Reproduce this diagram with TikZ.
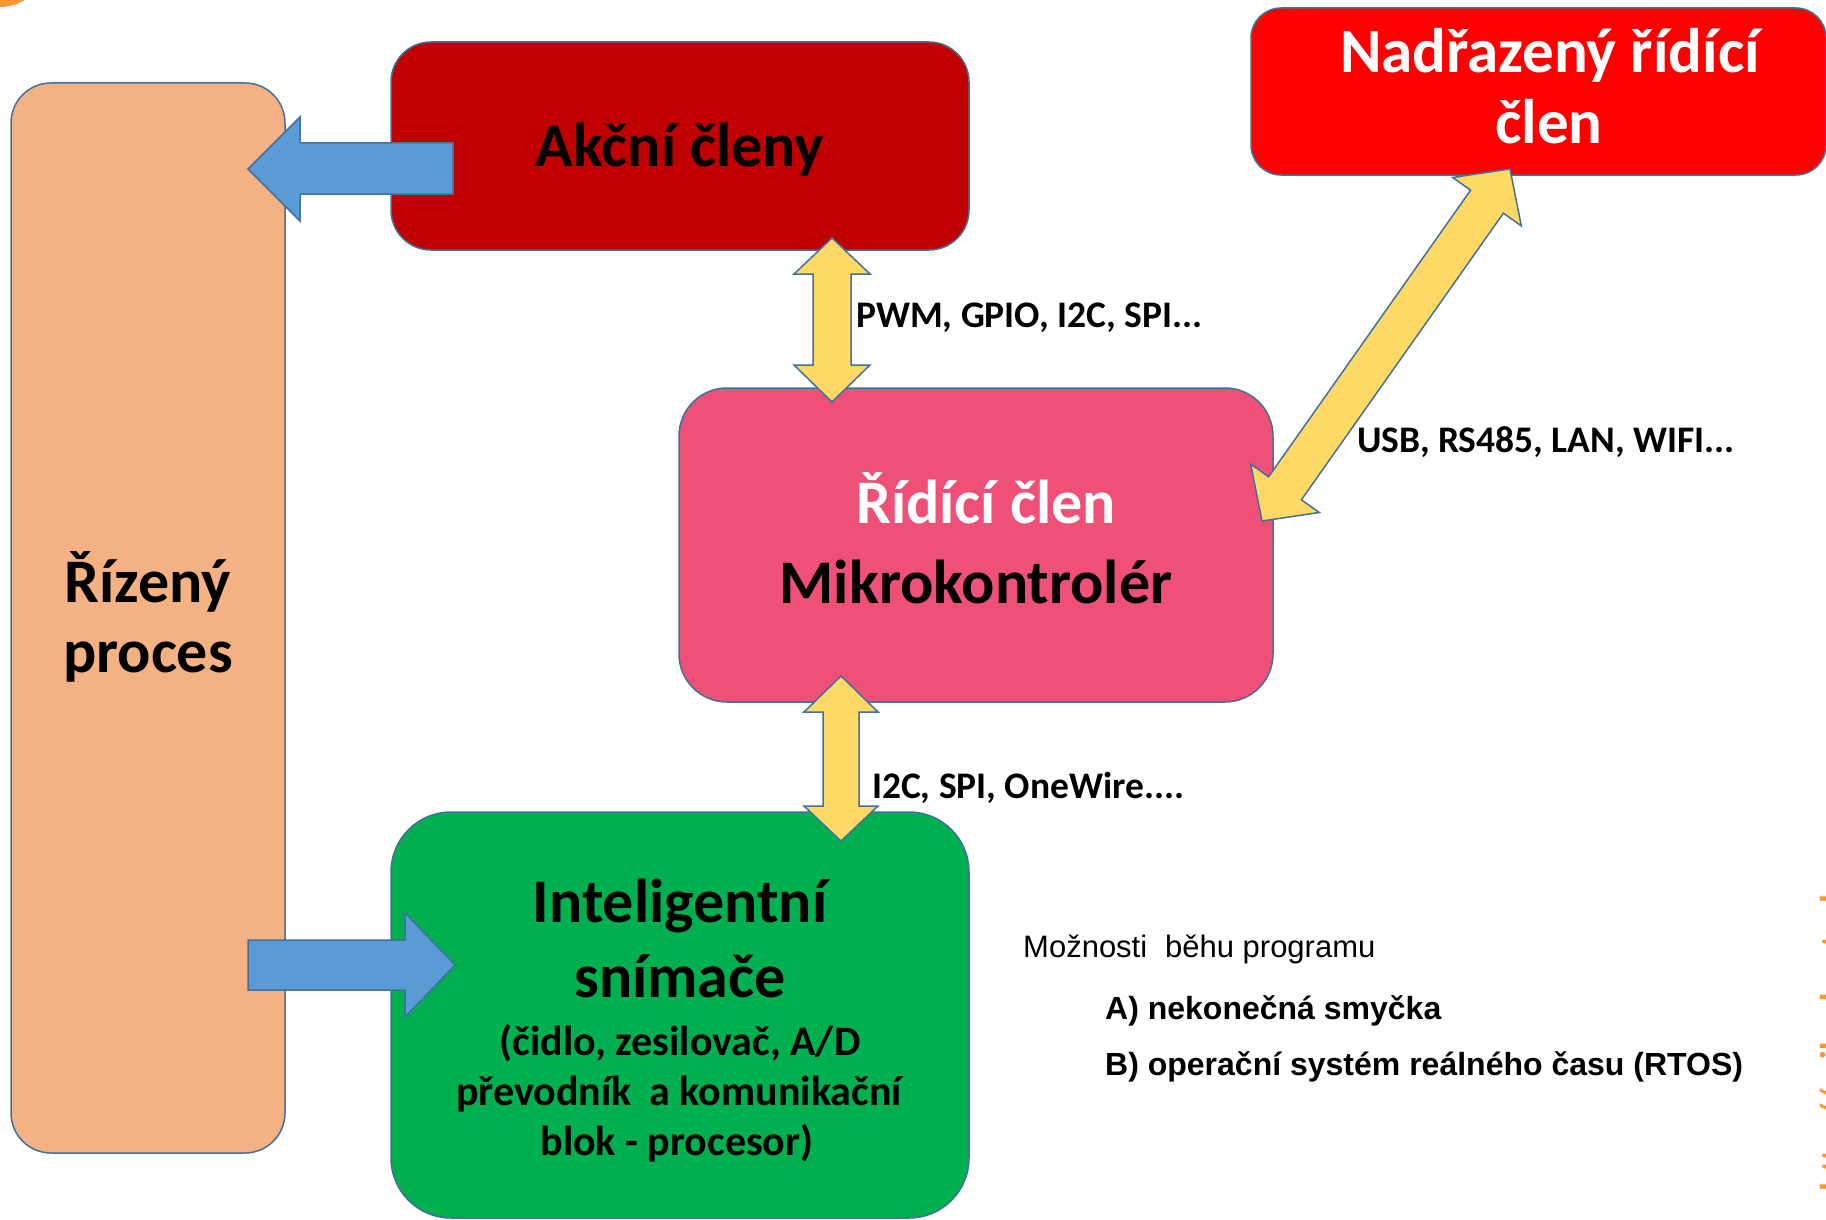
\documentclass[tikz,border=0pt]{standalone}
\usepackage{fontspec}
\setmainfont{Carlito}
\newfontfamily\arialf{Liberation Sans}
\definecolor{rpfill}{RGB}{244,177,131}
\definecolor{akcfill}{RGB}{192,0,0}
\definecolor{nadfill}{RGB}{255,0,0}
\definecolor{ridfill}{RGB}{239,80,119}
\definecolor{intfill}{RGB}{0,176,80}
\definecolor{bluearr}{RGB}{91,155,213}
\definecolor{yelarr}{RGB}{255,217,102}
\definecolor{edgeblue}{RGB}{65,113,156}
\definecolor{orng}{RGB}{250,150,50}
\begin{document}
\begin{tikzpicture}[x=1pt,y=-1pt,
  box/.style={draw=edgeblue, line width=1.5pt, inner sep=0pt},
  big/.style={font=\fontsize{62}{74}\selectfont\bfseries, anchor=base, inner sep=0pt},
  small/.style={font=\fontsize{42}{50}\selectfont\bfseries, anchor=base, inner sep=0pt},
  lbl/.style={font=\fontsize{37.5}{45}\selectfont\bfseries, anchor=base west, inner sep=0pt},
  note/.style={font=\arialf\fontsize{31}{37}\selectfont, anchor=base west, inner sep=0pt},
  notebold/.style={font=\arialf\fontsize{32}{38}\selectfont\bfseries, anchor=base west, inner sep=0pt},
  blockarrow/.style={draw=edgeblue, line width=1.5pt, line join=miter},
]
\useasboundingbox[fill=white] (0,0) rectangle (1826,1220);
\begin{scope}
\clip (0,0) rectangle (1826,1220);
% decorative orange blob and cut URL at the right edge
\fill[orng] (0,-40) circle[radius=47];
\node[rotate=90, anchor=north west, inner sep=0pt, text=orng,
  font=\fontsize{36}{44}\selectfont\bfseries] (url) at (1820,1192) {http://mikrokontrolery.cz};

% boxes
\node[box, fill=rpfill, rounded corners=40pt, minimum width=274pt, minimum height=1070pt] (rp) at (148,618) {};
\node[box, fill=akcfill, rounded corners=40pt, minimum width=578pt, minimum height=208pt] (akc) at (680,146) {};
\node[box, fill=nadfill, rounded corners=30pt, minimum width=575pt, minimum height=167pt] (nad) at (1538.5,91.5) {};
\node[box, fill=ridfill, rounded corners=48pt, minimum width=594pt, minimum height=314pt] (rid) at (976,545) {};
\node[box, fill=intfill, rounded corners=60pt, minimum width=578pt, minimum height=406pt] (int) at (680,1015) {};

% blue arrows
\draw[blockarrow, fill=bluearr] (453,143) -- (300,143) -- (300,117) -- (248,169) -- (300,221) -- (300,194) -- (453,194) -- cycle;
\draw[blockarrow, fill=bluearr] (248,940) -- (405,940) -- (405,913) -- (455,965) -- (405,1017) -- (405,990) -- (248,990) -- cycle;

% yellow double arrows
\draw[blockarrow, fill=yelarr] (832,238) -- (870,274) -- (851,274) -- (851,365) -- (870,365) -- (832,402)
  -- (794,365) -- (813,365) -- (813,274) -- (794,274) -- cycle;
\draw[blockarrow, fill=yelarr] (841,676) -- (878,712) -- (859,712) -- (859,806) -- (878,806) -- (841,841)
  -- (804,806) -- (823,806) -- (823,712) -- (804,712) -- cycle;
\draw[blockarrow, fill=yelarr] (1510,169) -- (1521.3,225.9) -- (1503.4,213.2) -- (1301.4,499.8) -- (1319.3,512.5)
  -- (1262,521) -- (1250.7,464.1) -- (1268.6,476.8) -- (1470.6,190.2) -- (1452.7,177.5) -- cycle;

% box texts
\node[big] (t-akc) at (680,167) {Akční členy};
\node[big] (t-rp1) at (148,602) {Řízený};
\node[big] (t-rp2) at (148,672) {proces};
\node[big, text=white, font=\fontsize{63}{74}\selectfont\bfseries] (t-nad1) at (1550,73) {Nadřazený řídící};
\node[big, text=white, font=\fontsize{63}{74}\selectfont\bfseries] (t-nad2) at (1549,143) {člen};
\node[big, text=white] (t-rid1) at (986,523) {Řídící člen};
\node[big] (t-rid2) at (976,603) {Mikrokontrolér};
\node[big] (t-int1) at (680,922) {Inteligentní};
\node[big] (t-int2) at (680,997) {snímače};
\node[small] (t-int3) at (680,1055) {(čidlo, zesilovač, A/D};
\node[small] (t-int4) at (679,1105) {převodník\hspace{0.2em} a komunikační};
\node[small] (t-int5) at (677,1155) {blok - procesor)};

% connector labels
\node[lbl] (l-pwm) at (856,327) {PWM, GPIO, I2C, SPI...};
\node[lbl] (l-i2c) at (872,798) {I2C, SPI, OneWire....};
\node[lbl] (l-usb) at (1357,452) {USB, RS485, LAN, WIFI...};

% notes
\node[note] (n0) at (1023,957) {Možnosti\hspace{0.3em} běhu programu};
\node[notebold] (n1) at (1105,1019) {A) nekonečná smyčka};
\node[notebold] (n2) at (1105,1075) {B) operační systém reálného času (RTOS)};
\end{scope}
\end{tikzpicture}
\end{document}
